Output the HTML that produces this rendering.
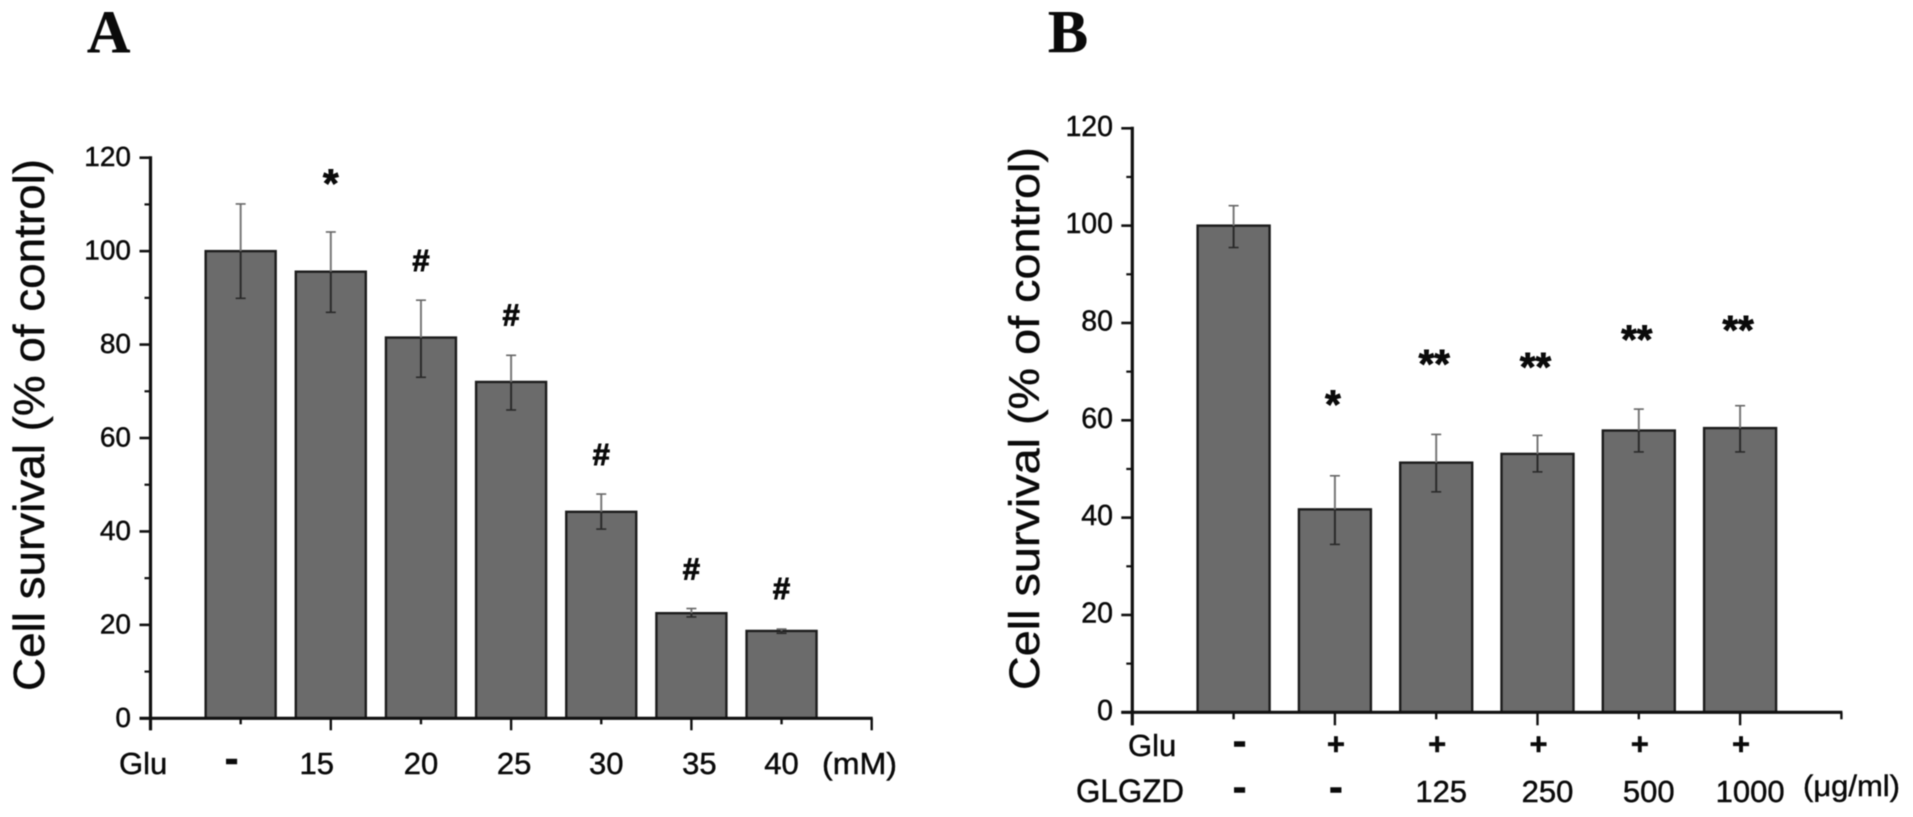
<!DOCTYPE html>
<html lang="en">
<head>
<meta charset="utf-8">
<title>Cell survival charts</title>
<style>
html,body{margin:0;padding:0;background:#fff;}
body{width:1913px;height:817px;overflow:hidden;}
svg{display:block;filter:blur(0.55px);font-family:"Liberation Sans",Arial,sans-serif;}
text{fill:#0a0a0a;stroke:#0a0a0a;stroke-width:0.45px;}
</style>
</head>
<body>
<svg id="figure" width="1913" height="817" viewBox="0 0 1913 817" xmlns="http://www.w3.org/2000/svg">
  <text x="87" y="52" font-family="'Liberation Serif',serif" font-weight="bold" font-size="60">A</text>
  <text x="1048" y="52" font-family="'Liberation Serif',serif" font-weight="bold" font-size="60">B</text>
  <text transform="translate(44,691) rotate(-90)" font-size="44" textLength="532" lengthAdjust="spacingAndGlyphs">Cell survival (% of control)</text>
  <text transform="translate(1039,690) rotate(-90)" font-size="43" textLength="543" lengthAdjust="spacingAndGlyphs">Cell survival (% of control)</text>
  <text x="119" y="774" font-size="31">Glu</text>
  <text x="822" y="774" font-size="31" textLength="75" lengthAdjust="spacingAndGlyphs">(mM)</text>
  <text x="1128" y="756" font-size="31">Glu</text>
  <text x="1076" y="802" font-size="32" textLength="108" lengthAdjust="spacingAndGlyphs">GLGZD</text>
  <text x="1803" y="796" font-size="30" textLength="97" lengthAdjust="spacingAndGlyphs">(μg/ml)</text>
</svg>
<script>
// Panel A data
const categoriesA = ['-', '15', '20', '25', '30', '35', '40'];
const valuesA = [100, 95.6, 81.5, 72, 44.2, 22.5, 18.7];
const errHighA = [110.1, 104.1, 89.5, 77.7, 48, 23.5, 19.1];
const errLowA = [89.9, 86.9, 73, 66, 40.5, 21.7, 18.2];
const markersA = ['', '*', '#', '#', '#', '#', '#'];

// Panel B data
const gluRowB = ['-', '+', '+', '+', '+', '+'];
const categoriesB = ['-', '-', '125', '250', '500', '1000'];
const valuesB = [100, 41.7, 51.3, 53.1, 57.9, 58.4];
const errHighB = [104.1, 48.6, 57.1, 56.9, 62.3, 63];
const errLowB = [95.5, 34.5, 45.3, 49.4, 53.5, 53.5];
const markersB = ['', '*', '**', '**', '**', '**'];

// Shared axis data
const yTickLabels = [0, 20, 40, 60, 80, 100, 120];
const yMinorTicks = [10, 30, 50, 70, 90, 110];
const yMax = 120;

const NS = 'http://www.w3.org/2000/svg';
const svg = document.getElementById('figure');

function mk(tag, attrs) {
  const el = document.createElementNS(NS, tag);
  for (const k in attrs) el.setAttribute(k, attrs[k]);
  svg.appendChild(el);
  return el;
}

function drawPanel(cfg) {
  const yScale = v => cfg.y0 - (v / yMax) * (cfg.y0 - cfg.y120);
  const xScale = i => cfg.x0 + cfg.step * (i + 1);
  const n = cfg.values.length;
  const xEnd = cfg.x0 + cfg.step * (n + 1);

  cfg.values.forEach((v, i) => {
    const bar = mk('rect', {
      x: xScale(i) - cfg.barW / 2, y: yScale(v),
      width: cfg.barW, height: cfg.y0 - yScale(v),
      fill: '#6b6b6b', stroke: '#1c1c1c', 'stroke-width': 2.4
    });
    
    

    const cx = xScale(i);
    const upper = mk('line', {
      x1: cx, x2: cx, y1: yScale(cfg.errHigh[i]), y2: yScale(v),
      stroke: '#777', 'stroke-width': 2
    });
    
    

    const lower = mk('line', {
      x1: cx, x2: cx, y1: yScale(v), y2: yScale(cfg.errLow[i]),
      stroke: '#2a2a2a', 'stroke-width': 2
    });
    
    

    const capTop = mk('line', {
      x1: cx - 5, x2: cx + 5, y1: yScale(cfg.errHigh[i]), y2: yScale(cfg.errHigh[i]),
      stroke: '#666', 'stroke-width': 1.6
    });
    
    

    const capBottom = mk('line', {
      x1: cx - 5, x2: cx + 5, y1: yScale(cfg.errLow[i]), y2: yScale(cfg.errLow[i]),
      stroke: '#2a2a2a', 'stroke-width': 1.6
    });
    
    

    if (cfg.markers[i]) {
      const m = cfg.markers[i];
      const isHash = m === '#';
      const mark = mk('text', {
        x: cx + cfg.markerDx,
        y: yScale(cfg.errHigh[i]) - cfg.markerGap[i] + (isHash ? 11 : 17),
        'text-anchor': 'middle', 'font-weight': 'bold',
        'font-size': isHash ? 31 : 40
      });
      mark.textContent = m;
      mark.style.strokeWidth = '0.9px';
      
      
    }
  });

  const yAxis = mk('line', {
    x1: cfg.x0, x2: cfg.x0, y1: cfg.y120 - 1.5, y2: cfg.y0 + cfg.longTick,
    stroke: '#111', 'stroke-width': 3.2
  });
  
  

  const xAxis = mk('line', {
    x1: cfg.x0 - 11, x2: xEnd + 1, y1: cfg.y0, y2: cfg.y0,
    stroke: '#111', 'stroke-width': 3.2
  });
  
  

  yTickLabels.forEach(t => {
    const tick = mk('line', {
      x1: cfg.x0 - 11, x2: cfg.x0, y1: yScale(t), y2: yScale(t),
      stroke: '#111', 'stroke-width': 2.6
    });
    
    

    const label = mk('text', {
      x: cfg.yLabelX, y: yScale(t) + cfg.yLabelDy,
      'text-anchor': 'end', 'font-size': cfg.tickFont
    });
    label.textContent = t;
    
    
  });

  yMinorTicks.forEach(t => {
    const tick = mk('line', {
      x1: cfg.x0 - 6, x2: cfg.x0, y1: yScale(t), y2: yScale(t),
      stroke: '#111', 'stroke-width': 2.2
    });
    
    
  });

  for (let k = 0; k <= n + 1; k++) {
    const x = cfg.x0 + cfg.step * k;
    const tick = mk('line', {
      x1: x, x2: x, y1: cfg.y0,
      y2: cfg.y0 + (k % 2 === 0 ? cfg.longTick : cfg.shortTick),
      stroke: '#111', 'stroke-width': 2.4
    });
    
    
  }

  return xScale;
}

function rowLabel(text, x, baseline, dashCenter) {
  const isDash = text === '-';
  const isPlus = text === '+';
  const el = mk('text', {
    x: x,
    y: isDash ? dashCenter + 11 : isPlus ? dashCenter + 10.5 : baseline,
    'text-anchor': 'middle',
    'font-size': isDash ? 42 : 31,
    'font-weight': isDash || isPlus ? 'bold' : 'normal'
  });
  el.textContent = text;
  return el;
}

const xA = drawPanel({
  values: valuesA, errHigh: errHighA, errLow: errLowA, markers: markersA,
  x0: 150.5, step: 90.15, barW: 70, y0: 718.3, y120: 157.7,
  yLabelX: 131, yLabelDy: 8.5, tickFont: 28, longTick: 12, shortTick: 6,
  markerGap: [0, 52, 40, 41, 40, 40, 41], markerDx: 0
});

categoriesA.forEach((c, i) => {
  const nudge = [-9, -14, 0, 3, 5, 8, 0][i];
  const el = rowLabel(c, xA(i) + nudge, 774, 761.5);
  
  
});

const xB = drawPanel({
  values: valuesB, errHigh: errHighB, errLow: errLowB, markers: markersB,
  x0: 1132.3, step: 101.3, barW: 72, y0: 712.3, y120: 128.3,
  yLabelX: 1113, yLabelDy: 7.5, tickFont: 28.5, longTick: 13, shortTick: 7,
  markerGap: [0, 75, 74, 72, 73, 79], markerDx: -2
});

gluRowB.forEach((c, i) => {
  const el = rowLabel(c, xB(i) + (c === '-' ? 6 : 1), 756, 744);
  
  
});

categoriesB.forEach((c, i) => {
  const nudge = [6, 1, 5, 10, 10, 10][i];
  const el = rowLabel(c, xB(i) + nudge, 802, 790);
  
  
});
</script>
</body>
</html>
